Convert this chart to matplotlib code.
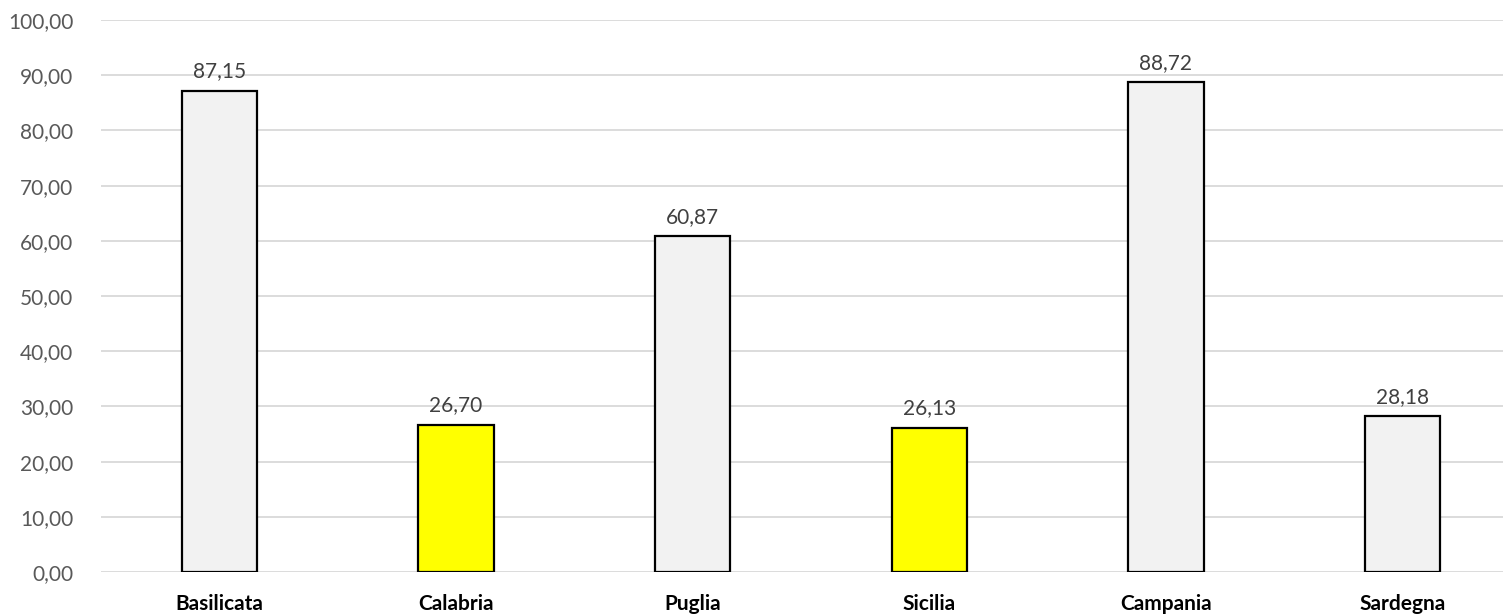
import matplotlib.pyplot as plt

regions = ["Basilicata", "Calabria", "Puglia", "Sicilia", "Campania", "Sardegna"]
values = [87.15, 26.70, 60.87, 26.13, 88.72, 28.18]
bar_colors = ["#F2F2F2", "#FFFF00", "#F2F2F2", "#FFFF00", "#F2F2F2", "#F2F2F2"]
y_ticks = [0, 10, 20, 30, 40, 50, 60, 70, 80, 90, 100]


def fmt(v):
    return f"{v:.2f}".replace(".", ",")


plt.rcParams['font.family'] = ['Lato', 'DejaVu Sans']

fig = plt.figure(figsize=(15.03, 6.15), dpi=100)
ax = fig.add_axes([101 / 1503, 43 / 615, 1420 / 1503, 552 / 615])

x = list(range(len(regions)))
bars = ax.bar(x, values, width=0.317, color=bar_colors, edgecolor="black",
              linewidth=1.6, zorder=3)

for b, v in zip(bars, values):
    ax.text(b.get_x() + b.get_width() / 2, v + 1.7, fmt(v), ha="center",
            va="bottom", fontsize=15, color="#404040")

ax.set_xlim(-0.5, len(regions) - 0.5)
ax.set_ylim(0, 100)
ax.set_yticks(y_ticks)
ax.set_yticklabels([fmt(t) for t in y_ticks], fontsize=15, color="#595959")
ax.set_xticks(x)
ax.set_xticklabels(regions, fontsize=15, fontweight="bold", color="black")
ax.tick_params(axis="both", length=0)
ax.tick_params(axis="x", pad=16)
ax.tick_params(axis="y", pad=20)

ax.yaxis.grid(True, color="#D9D9D9", linewidth=1.3, zorder=0)
for s in ax.spines.values():
    s.set_visible(False)

fig.savefig("out.png", dpi=100)
